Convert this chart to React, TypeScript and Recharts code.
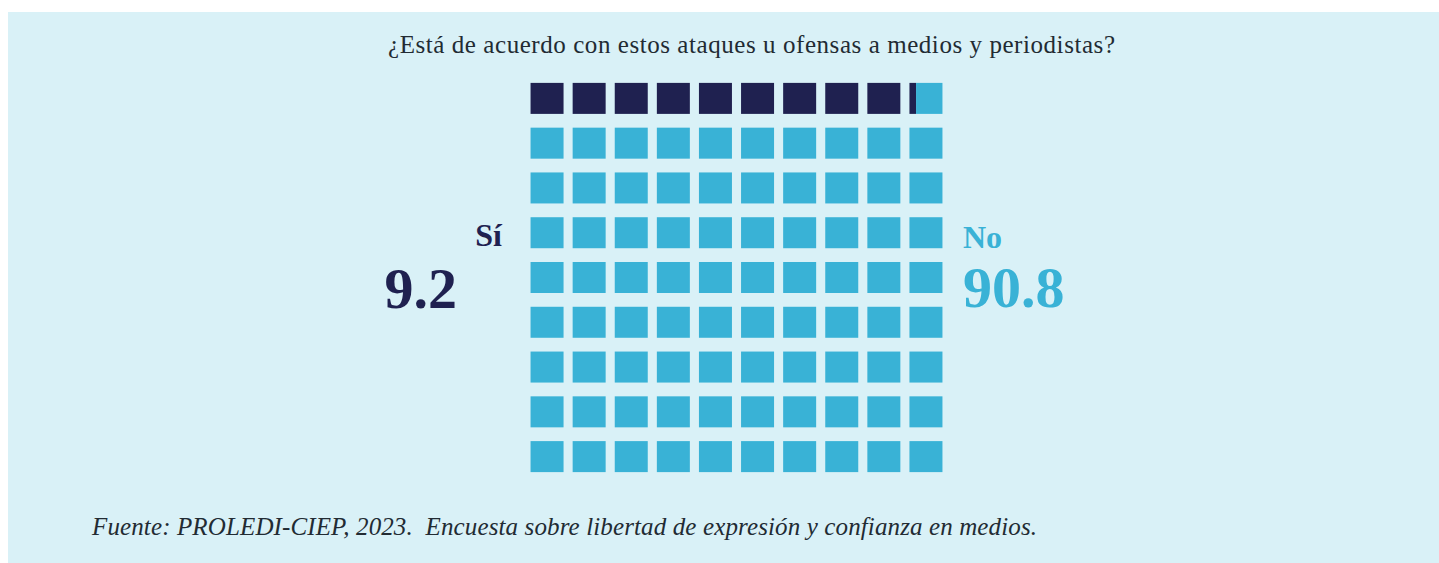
import { ScatterChart, Scatter, XAxis, YAxis } from 'recharts'

// encuesta PROLEDI-CIEP 2023
const categories = ['Sí', 'No']
const values = [9.2, 90.8]
const gridCols = 10
const gridRows = 9

const DARK = '#1F2150'
const LIGHT = '#39B2D6'
const TEXT = '#222B33'
const SERIF = '"Liberation Serif", "DejaVu Serif", serif'

// one point per square, filled by the share of "Sí"
const cells = Array.from({ length: gridCols * gridRows }, (_, i) => {
  const col = i % gridCols
  const row = Math.floor(i / gridCols)
  const share = Math.max(0, Math.min(1, values[0] - i))
  return { x: col + 0.5, y: row + 0.5, share }
})

const CELL_W = 33
const CELL_H = 31

function Square(props: any) {
  const { cx, cy, payload } = props
  const x = cx - CELL_W / 2
  const y = cy - CELL_H / 2
  const share = payload.share
  if (share >= 1) return <rect x={x} y={y} width={CELL_W} height={CELL_H} fill={DARK} />
  if (share <= 0) return <rect x={x} y={y} width={CELL_W} height={CELL_H} fill={LIGHT} />
  const dw = CELL_W * share
  return (
    <g>
      <rect x={x} y={y} width={dw} height={CELL_H} fill={DARK} />
      <rect x={x + dw} y={y} width={CELL_W - dw} height={CELL_H} fill={LIGHT} />
    </g>
  )
}

export default function App() {
  return (
    <div style={{ position: 'absolute', left: 8, top: 12, width: 1431, height: 551, background: '#D9F1F7' }}>
      <ScatterChart width={1431} height={551} margin={{ top: 64, right: 492, bottom: 84, left: 518 }}>
        <XAxis type="number" dataKey="x" domain={[0, gridCols]} hide />
        <YAxis type="number" dataKey="y" domain={[0, gridRows]} reversed hide />
        <Scatter data={cells} shape={<Square />} isAnimationActive={false} />
      </ScatterChart>
      <svg width={1431} height={551} style={{ position: 'absolute', left: 0, top: 0 }}>
        <text x={380} y={41} textLength={727} lengthAdjust="spacing" fontFamily={SERIF} fontSize={25} fill={TEXT}>
          ¿Está de acuerdo con estos ataques u ofensas a medios y periodistas?
        </text>
        <text x={494} y={234} textAnchor="end" fontFamily={SERIF} fontSize={32} fontWeight="bold" fill={DARK}>
          {categories[0]}
        </text>
        <text x={449} y={296} textAnchor="end" fontFamily={SERIF} fontSize={58} fontWeight="bold" fill={DARK}>
          {values[0].toFixed(1)}
        </text>
        <text x={955} y={236} fontFamily={SERIF} fontSize={32} fontWeight="bold" fill={LIGHT}>
          {categories[1]}
        </text>
        <text x={955} y={295} fontFamily={SERIF} fontSize={58} fontWeight="bold" fill={LIGHT}>
          {values[1].toFixed(1)}
        </text>
        <text x={84} y={523} textLength={945} lengthAdjust="spacing" fontFamily={SERIF} fontSize={25} fontStyle="italic" fill={TEXT} style={{ whiteSpace: 'pre' }}>
          Fuente: PROLEDI-CIEP, 2023.  Encuesta sobre libertad de expresión y confianza en medios.
        </text>
      </svg>
    </div>
  )
}
